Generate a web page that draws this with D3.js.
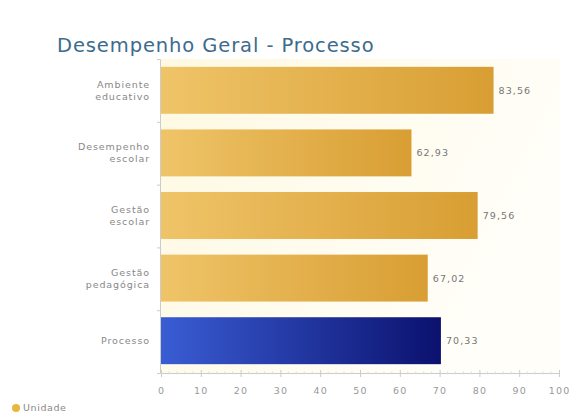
<!DOCTYPE html>
<html><head><meta charset="utf-8">
<script src="https://cdn.jsdelivr.net/npm/d3@7"></script>
<style>
body{margin:0;background:#fff;font-family:Verdana,"DejaVu Sans",sans-serif;}
</style></head>
<body><svg id="c" width="575" height="417"></svg>
<script>
const categories = [["Ambiente","educativo"],["Desempenho","escolar"],["Gestão","escolar"],["Gestão","pedagógica"],["Processo"]];
const values = [83.56, 62.93, 79.56, 67.02, 70.33];
const valueLabels = ["83,56","62,93","79,56","67,02","70,33"];
const xTicks = [0,10,20,30,40,50,60,70,80,90,100];
const title = "Desempenho Geral - Processo";
const legendLabel = "Unidade";

const svg = d3.select("#c");
const m = {left:161, right:559, top:59, bottom:372};
const x = d3.scaleLinear().domain([0,100]).range([m.left, m.right]);
const y = d3.scaleBand().domain(d3.range(values.length)).range([m.top, m.bottom]).paddingInner(0.25).paddingOuter(0.125);

const defs = svg.append("defs");
const bg = defs.append("linearGradient").attr("id","bg").attr("x1",0).attr("y1",0).attr("x2",1).attr("y2",0.4);
bg.append("stop").attr("offset","0%").attr("stop-color","#fff9e2");
bg.append("stop").attr("offset","100%").attr("stop-color","#fffef9");
const gold = defs.append("linearGradient").attr("id","gold").attr("x1",0).attr("y1",0).attr("x2",1).attr("y2",0);
gold.append("stop").attr("offset","0%").attr("stop-color","#efc468");
gold.append("stop").attr("offset","100%").attr("stop-color","#d89e33");
const blue = defs.append("linearGradient").attr("id","blue").attr("x1",0).attr("y1",0).attr("x2",1).attr("y2",0);
blue.append("stop").attr("offset","0%").attr("stop-color","#3a5dd4");
blue.append("stop").attr("offset","100%").attr("stop-color","#0b116e");

svg.append("rect").attr("x",m.left).attr("y",m.top).attr("width",m.right-m.left+1).attr("height",m.bottom-m.top+1).attr("fill","url(#bg)");

svg.append("text").attr("x",57).attr("y",52).attr("fill","#3d6b8c").attr("font-size",19.5)
  .attr("letter-spacing",0.9)
  .attr("font-family","Verdana,'DejaVu Sans',sans-serif").text(title);

// bars
svg.selectAll("rect.bar").data(values).enter().append("rect").attr("class","bar")
  .attr("x",x(0)).attr("y",(d,i)=>y(i)).attr("width",d=>x(d)-x(0)).attr("height",y.bandwidth())
  .attr("fill",(d,i)=>i===values.length-1?"url(#blue)":"url(#gold)");

svg.selectAll("text.val").data(values).enter().append("text").attr("class","val")
  .attr("x",d=>x(d)+5).attr("y",(d,i)=>y(i)+y.bandwidth()/2+3.5)
  .attr("font-size",9.5).attr("letter-spacing",1.1).attr("fill","#777").text((d,i)=>valueLabels[i]);

// y axis
const yAxis = d3.axisLeft(d3.scaleLinear().domain([0,values.length]).range([m.top,m.bottom+1]))
  .tickValues(d3.range(values.length+1)).tickSize(3).tickFormat("");
const gy = svg.append("g").attr("transform",`translate(${m.left-1},0)`).call(yAxis);
gy.selectAll("path,line").attr("stroke","#ccc");

categories.forEach((lines,i)=>{
  const cy = y(i)+y.bandwidth()/2;
  const t = svg.append("text").attr("text-anchor","end").attr("font-size",9.5).attr("letter-spacing",0.9).attr("fill","#888");
  lines.forEach((l,k)=>{
    t.append("tspan").attr("x",150).attr("y",cy+3.5+(k-(lines.length-1)/2)*12).text(l);
  });
});

// x axis
const xAxis = d3.axisBottom(x).tickValues(xTicks).tickSize(4).tickFormat(d=>d);
const gx = svg.append("g").attr("transform",`translate(0,${m.bottom+1})`).call(xAxis);
gx.select(".domain").attr("stroke","#ccc");
gx.selectAll(".tick line").attr("stroke","#ccc").attr("y1",-3);
gx.selectAll(".tick text").attr("font-size",9.5).attr("letter-spacing",1.2).attr("fill","#999").attr("dy","1.5em")
  .attr("font-family","Verdana,'DejaVu Sans',sans-serif");
const minor = d3.range(0,101,2).filter(v=>v%10!==0);
gx.selectAll("line.minor").data(minor).enter().append("line").attr("class","minor")
  .attr("x1",d=>x(d)).attr("x2",d=>x(d)).attr("y1",-1.5).attr("y2",1.5).attr("stroke","#ddd");

// legend
svg.append("circle").attr("cx",16).attr("cy",408).attr("r",4).attr("fill","#e6b640");
svg.append("text").attr("x",23).attr("y",411).attr("font-size",9.5).attr("letter-spacing",0.6).attr("fill","#888").text(legendLabel);
</script></body></html>
